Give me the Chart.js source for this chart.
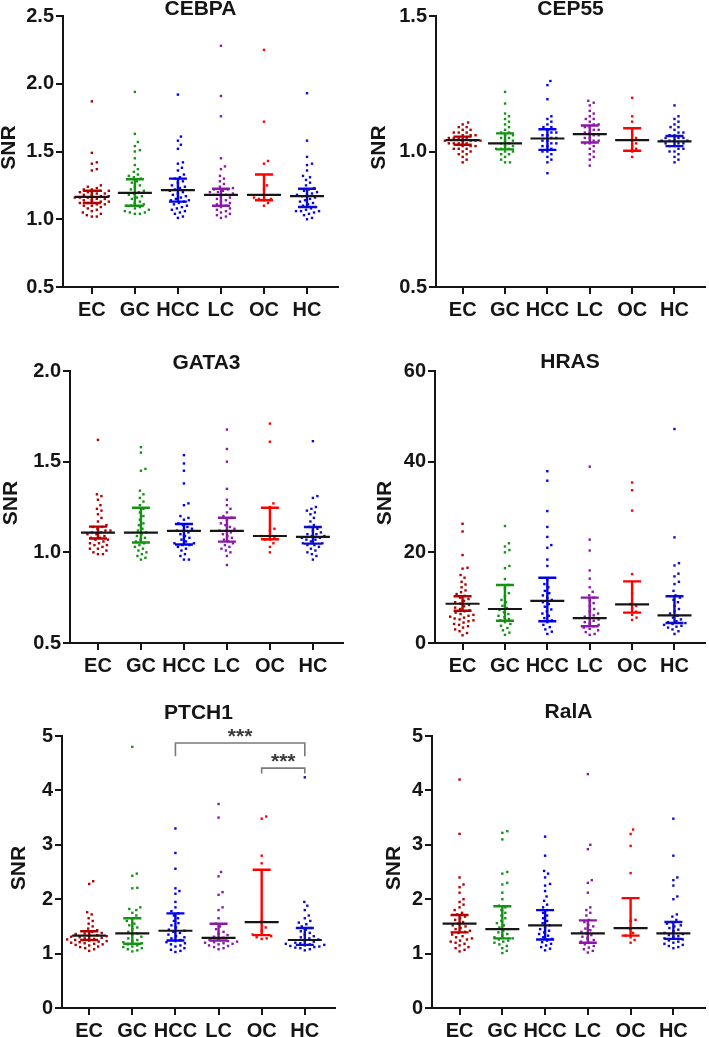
<!DOCTYPE html>
<html>
<head>
<meta charset="utf-8">
<script src="https://cdn.jsdelivr.net/npm/chart.js@4.4.0/dist/chart.umd.min.js"></script>
<style>
  body { margin: 0; background: #fff; }
  #wrap { position: relative; width: 709px; height: 1037px; overflow: hidden; background: #fff; }
  #wrap canvas { position: absolute; }
</style>
</head>
<body>
<div id="wrap"></div>
<script>
// group names and colours
var groups = ["EC", "GC", "HCC", "LC", "OC", "HC"];
var groupColors = ["#b00000", "#139313", "#0000ee", "#8a18a8", "#ff0000", "#0c0ccc"];

// ---- CEBPA ----
var cebpaTicks = [0.5, 1.0, 1.5, 2.0, 2.5];
var cebpaPoints = [
  [1.87,1.49,1.42,1.41,1.37,1.36,1.25,1.24,1.23,1.22,1.22,1.21,1.21,1.20,1.20,1.19,1.19,1.18,1.18,1.17,1.17,1.16,1.16,1.16,1.15,1.15,1.14,1.14,1.13,1.13,1.12,1.12,1.11,1.11,1.10,1.10,1.09,1.08,1.07,1.06,1.05,1.04,1.03,1.02,1.02],
  [1.94,1.63,1.57,1.54,1.51,1.50,1.45,1.40,1.37,1.35,1.33,1.32,1.31,1.30,1.28,1.27,1.25,1.24,1.22,1.21,1.20,1.19,1.18,1.17,1.16,1.15,1.13,1.12,1.11,1.10,1.10,1.09,1.08,1.07,1.06,1.05,1.05,1.04,1.04],
  [1.92,1.61,1.58,1.55,1.52,1.42,1.41,1.38,1.36,1.33,1.31,1.30,1.28,1.27,1.25,1.24,1.23,1.22,1.21,1.20,1.19,1.18,1.17,1.16,1.15,1.14,1.14,1.13,1.12,1.11,1.10,1.09,1.08,1.07,1.06,1.05,1.04,1.02,1.01],
  [2.28,1.91,1.76,1.45,1.39,1.37,1.32,1.30,1.28,1.26,1.24,1.23,1.22,1.22,1.21,1.20,1.20,1.19,1.18,1.18,1.17,1.16,1.15,1.14,1.13,1.12,1.11,1.10,1.09,1.08,1.07,1.06,1.05,1.04,1.03,1.02,1.01],
  [2.25,1.72,1.43,1.41,1.25,1.22,1.18,1.16,1.15,1.15,1.14,1.12,1.10],
  [1.93,1.58,1.46,1.41,1.40,1.36,1.32,1.31,1.29,1.27,1.25,1.23,1.22,1.21,1.20,1.19,1.18,1.18,1.17,1.16,1.15,1.14,1.13,1.12,1.11,1.10,1.09,1.08,1.07,1.06,1.06,1.06,1.05,1.04,1.03,1.01,1.00]
];
var cebpaMedian = [1.165, 1.195, 1.215, 1.18, 1.18, 1.17];
var cebpaQ1 = [1.12, 1.10, 1.13, 1.10, 1.14, 1.09];
var cebpaQ3 = [1.21, 1.295, 1.30, 1.225, 1.33, 1.225];

// ---- CEP55 ----
var cep55Ticks = [0.5, 1.0, 1.5];
var cep55Points = [
  [1.107,1.10,1.09,1.09,1.08,1.08,1.07,1.07,1.07,1.06,1.06,1.06,1.05,1.05,1.05,1.05,1.04,1.04,1.04,1.04,1.04,1.03,1.03,1.03,1.03,1.02,1.02,1.02,1.01,1.01,1.01,1.00,1.00,0.99,0.99,0.98,0.97,0.96],
  [1.22,1.177,1.14,1.13,1.12,1.11,1.10,1.09,1.08,1.07,1.07,1.06,1.06,1.05,1.05,1.04,1.04,1.03,1.03,1.02,1.02,1.01,1.01,1.01,1.00,1.00,0.99,0.99,0.98,0.97,0.96,0.96],
  [1.26,1.245,1.193,1.13,1.12,1.11,1.10,1.09,1.09,1.08,1.07,1.07,1.06,1.06,1.05,1.05,1.04,1.04,1.03,1.03,1.02,1.02,1.01,1.00,1.00,0.99,0.98,0.97,0.96,0.92],
  [1.187,1.18,1.17,1.15,1.14,1.13,1.12,1.12,1.11,1.10,1.10,1.09,1.09,1.08,1.08,1.07,1.07,1.06,1.06,1.05,1.05,1.04,1.04,1.03,1.03,1.02,1.01,1.00,0.99,0.98,0.97,0.948],
  [1.198,1.13,1.11,1.08,1.06,1.05,1.04,1.03,1.02,1.01,1.00,0.98],
  [1.17,1.13,1.12,1.11,1.10,1.09,1.09,1.08,1.07,1.07,1.06,1.06,1.05,1.05,1.05,1.04,1.04,1.04,1.04,1.03,1.03,1.03,1.02,1.02,1.01,1.01,1.00,1.00,0.99,0.98,0.97,0.96]
];
var cep55Median = [1.042, 1.030, 1.048, 1.064, 1.042, 1.037];
var cep55Q1 = [1.025, 1.008, 1.006, 1.033, 1.003, 1.02];
var cep55Q3 = [1.055, 1.067, 1.082, 1.096, 1.086, 1.057];

// ---- GATA3 ----
var gata3Ticks = [0.5, 1.0, 1.5, 2.0];
var gata3Points = [
  [1.62,1.32,1.31,1.29,1.26,1.24,1.23,1.21,1.19,1.17,1.15,1.14,1.14,1.13,1.12,1.12,1.11,1.11,1.10,1.10,1.09,1.08,1.08,1.07,1.07,1.06,1.05,1.05,1.04,1.04,1.03,1.02,1.02,1.01,1.00,0.99,0.99],
  [1.58,1.55,1.46,1.45,1.34,1.32,1.30,1.28,1.26,1.24,1.22,1.20,1.18,1.16,1.15,1.13,1.12,1.11,1.10,1.09,1.08,1.07,1.06,1.05,1.04,1.03,1.02,1.01,1.00,0.99,0.98,0.97,0.96],
  [1.536,1.49,1.45,1.38,1.27,1.26,1.20,1.19,1.18,1.16,1.15,1.14,1.13,1.12,1.12,1.11,1.10,1.09,1.08,1.07,1.06,1.05,1.05,1.04,1.04,1.03,1.02,1.01,0.99,0.98,0.96,0.96],
  [1.677,1.57,1.50,1.35,1.29,1.26,1.24,1.22,1.20,1.19,1.18,1.16,1.15,1.14,1.13,1.12,1.12,1.11,1.10,1.09,1.08,1.07,1.06,1.05,1.04,1.03,1.02,1.01,1.00,0.98,0.93],
  [1.71,1.61,1.27,1.25,1.13,1.12,1.09,1.08,1.07,1.07,1.05,1.03,1.00],
  [1.613,1.31,1.30,1.25,1.24,1.23,1.22,1.21,1.19,1.17,1.15,1.14,1.13,1.12,1.11,1.10,1.10,1.09,1.09,1.08,1.08,1.07,1.07,1.06,1.05,1.05,1.04,1.04,1.03,1.02,1.01,1.00,0.99,0.98,0.96]
];
var gata3Median = [1.109, 1.109, 1.118, 1.118, 1.09, 1.085];
var gata3Q1 = [1.076, 1.054, 1.043, 1.059, 1.072, 1.048];
var gata3Q3 = [1.142, 1.246, 1.156, 1.191, 1.246, 1.14];

// ---- HRAS ----
var hrasTicks = [0, 20, 40, 60];
var hrasPoints = [
  [26.3,24.6,19.4,16.6,16.4,15.0,14.4,13.5,12.9,12.3,11.6,11.2,10.8,10.4,10.0,9.7,9.3,9.0,8.7,8.4,8.1,7.8,7.5,7.2,7.0,6.7,6.4,6.2,6.0,5.8,5.6,5.4,5.2,5.0,4.8,4.5,4.2,4.0,3.7,3.4,3.0,2.6,2.2,1.7],
  [25.8,22.0,21.3,20.5,20.0,17.0,16.5,14.1,12.8,12.0,11.0,10.3,9.5,9.0,8.2,7.7,7.3,6.8,6.4,6.0,5.7,5.3,5.0,4.6,4.2,3.8,3.3,2.8,2.3,1.8],
  [37.9,35.8,29.1,25.6,23.4,21.6,21.0,18.4,17.0,14.0,13.0,12.3,11.5,11.0,10.5,10.0,9.5,9.0,8.6,8.0,7.4,7.0,6.5,6.0,5.5,5.0,4.6,4.0,3.5,3.0,2.5,2.0],
  [38.9,22.8,20.4,16.0,14.2,12.3,11.3,10.5,10.0,9.4,8.8,8.2,7.5,7.0,6.5,6.1,5.8,5.5,5.2,4.9,4.6,4.3,4.0,3.7,3.4,3.1,2.8,2.4,2.0,1.8],
  [35.4,33.7,29.2,15.2,11.0,8.6,8.2,7.6,6.9,6.2,5.6,5.1],
  [47.2,23.3,17.6,17.1,15.3,14.7,13.5,13.0,11.5,10.5,10.0,9.5,9.0,8.2,7.5,7.0,6.5,6.0,5.6,5.2,4.8,4.6,4.4,4.2,4.0,3.8,3.6,3.4,3.0,2.6,2.0]
];
var hrasMedian = [8.66, 7.5, 9.3, 5.5, 8.5, 6.1];
var hrasQ1 = [7.1, 4.9, 4.8, 3.7, 6.7, 4.4];
var hrasQ3 = [10.3, 12.8, 14.4, 10.0, 13.6, 10.3];

// ---- PTCH1 ----
var ptch1Ticks = [0, 1, 2, 3, 4, 5];
var ptch1Points = [
  [2.33,2.28,1.76,1.72,1.65,1.60,1.55,1.50,1.46,1.43,1.40,1.38,1.37,1.36,1.34,1.33,1.32,1.31,1.30,1.29,1.28,1.27,1.26,1.25,1.24,1.23,1.22,1.21,1.20,1.19,1.18,1.17,1.16,1.15,1.13,1.12,1.10,1.08,1.05],
  [4.80,2.47,2.43,2.21,2.20,1.85,1.82,1.80,1.75,1.70,1.65,1.60,1.55,1.52,1.48,1.45,1.40,1.37,1.34,1.31,1.28,1.25,1.23,1.21,1.19,1.17,1.15,1.13,1.12,1.10,1.08,1.06,1.04],
  [3.30,2.85,2.56,2.20,2.15,2.10,1.95,1.85,1.78,1.74,1.70,1.65,1.60,1.56,1.52,1.48,1.44,1.42,1.40,1.38,1.35,1.32,1.30,1.28,1.25,1.23,1.21,1.19,1.17,1.15,1.13,1.10,1.07,1.05,1.03],
  [3.75,3.50,2.50,2.42,2.13,2.08,1.85,1.80,1.65,1.55,1.50,1.45,1.40,1.37,1.34,1.31,1.29,1.27,1.25,1.23,1.22,1.21,1.20,1.19,1.18,1.17,1.15,1.14,1.12,1.10,1.08],
  [3.52,3.48,2.80,2.66,1.60,1.48,1.42,1.35,1.32,1.30,1.28,1.27],
  [4.24,1.95,1.88,1.80,1.70,1.65,1.60,1.57,1.54,1.50,1.47,1.44,1.41,1.38,1.35,1.32,1.30,1.28,1.26,1.24,1.22,1.20,1.19,1.18,1.17,1.16,1.15,1.14,1.13,1.12,1.11,1.10,1.08,1.06]
];
var ptch1Median = [1.33, 1.37, 1.42, 1.29, 1.58, 1.25];
var ptch1Q1 = [1.25, 1.18, 1.24, 1.24, 1.34, 1.16];
var ptch1Q3 = [1.41, 1.65, 1.74, 1.55, 2.54, 1.47];
// significance brackets: from group, to group, bar value, end value, label
var ptch1Brackets = [[3, 6, 4.87, 4.63, "***"], [5, 6, 4.41, 4.31, "***"]];

// ---- RalA ----
var ralaTicks = [0, 1, 2, 3, 4, 5];
var ralaPoints = [
  [4.20,3.20,2.40,2.27,2.22,2.12,2.00,1.95,1.90,1.85,1.80,1.75,1.72,1.68,1.65,1.62,1.58,1.55,1.52,1.50,1.47,1.45,1.42,1.40,1.38,1.35,1.32,1.30,1.28,1.26,1.24,1.22,1.20,1.18,1.15,1.12,1.10,1.07,1.04],
  [3.25,3.22,3.10,2.50,2.47,2.30,2.27,2.12,2.00,1.88,1.85,1.80,1.75,1.70,1.65,1.60,1.56,1.52,1.48,1.45,1.42,1.39,1.36,1.33,1.30,1.28,1.26,1.24,1.22,1.20,1.17,1.14,1.10,1.05,1.01],
  [3.15,2.80,2.52,2.47,2.40,2.28,2.25,2.15,2.05,1.97,1.90,1.85,1.80,1.75,1.70,1.65,1.60,1.56,1.52,1.48,1.45,1.42,1.39,1.36,1.33,1.30,1.27,1.24,1.21,1.18,1.15,1.12,1.09,1.06],
  [4.30,3.00,2.92,2.35,2.30,2.12,1.85,1.80,1.75,1.70,1.62,1.58,1.53,1.50,1.46,1.43,1.40,1.37,1.34,1.31,1.28,1.25,1.22,1.20,1.17,1.14,1.11,1.08,1.05,1.02],
  [3.28,3.20,2.98,2.48,1.62,1.60,1.45,1.38,1.33,1.30,1.25,1.20],
  [3.48,2.80,2.40,2.35,2.25,2.05,2.00,1.72,1.68,1.62,1.58,1.55,1.52,1.50,1.47,1.44,1.41,1.38,1.36,1.34,1.32,1.30,1.28,1.26,1.24,1.22,1.20,1.18,1.16,1.14,1.12,1.10]
];
var ralaMedian = [1.55, 1.45, 1.52, 1.37, 1.47, 1.37];
var ralaQ1 = [1.39, 1.28, 1.26, 1.20, 1.33, 1.27];
var ralaQ3 = [1.71, 1.87, 1.80, 1.61, 2.02, 1.58];

// panel layout: box = canvas [left, top, w, h], area = plot [left, top, right, bottom] inside the canvas
var panels = [
  { name: "CEBPA", pts: cebpaPoints, med: cebpaMedian, q1: cebpaQ1, q3: cebpaQ3, ticks: cebpaTicks, dec: 1,
    box: [0, 0, 355, 332], area: [63, 16, 338, 287], xr: [0.33, 6.72], titleDy: 7, snrDx: 54 },
  { name: "CEP55", pts: cep55Points, med: cep55Median, q1: cep55Q1, q3: cep55Q3, ticks: cep55Ticks, dec: 1,
    box: [355, 0, 354, 332], area: [81, 16, 353, 287], xr: [0.37, 6.72], titleDy: 7, snrDx: 56.5 },
  { name: "GATA3", pts: gata3Points, med: gata3Median, q1: gata3Q1, q3: gata3Q3, ticks: gata3Ticks, dec: 1,
    box: [0, 330, 355, 358], area: [70, 41, 343, 313], xr: [0.35, 6.70], titleDy: 8, snrDx: 59 },
  { name: "HRAS", pts: hrasPoints, med: hrasMedian, q1: hrasQ1, q3: hrasQ3, ticks: hrasTicks, dec: 0,
    box: [355, 330, 354, 358], area: [80, 41, 353, 313], xr: [0.35, 6.72], titleDy: 9, snrDx: 50 },
  { name: "PTCH1", pts: ptch1Points, med: ptch1Median, q1: ptch1Q1, q3: ptch1Q3, ticks: ptch1Ticks, dec: 0,
    box: [0, 670, 355, 367], area: [62, 66, 335, 338], xr: [0.37, 6.70], titleDy: 23, snrDx: 42.5, brackets: ptch1Brackets },
  { name: "RalA", pts: ralaPoints, med: ralaMedian, q1: ralaQ1, q3: ralaQ3, ticks: ralaTicks, dec: 0,
    box: [355, 670, 354, 367], area: [77, 66, 353, 338], xr: [0.355, 6.74], titleDy: 24, snrDx: 37.5 }
];

var FONT = '"Liberation Sans", Arial, Helvetica, sans-serif';
var INK = "#151515";

// simple beeswarm: returns horizontal offsets (px) for values, given px per y unit
function swarm(vals, pxPerY, dist) {
  var order = vals.map(function (v, i) { return i; });
  order.sort(function (a, b) { return vals[a] - vals[b]; });
  var placed = [];
  var off = new Array(vals.length);
  order.forEach(function (i) {
    var y = vals[i] * pxPerY;
    for (var k = 0; k < 400; k++) {
      var cand = (k % 2 ? 1 : -1) * Math.ceil(k / 2) * 0.5;
      var ok = true;
      for (var p = 0; p < placed.length; p++) {
        var dx = placed[p][0] - cand, dy = placed[p][1] - y;
        if (dx * dx + dy * dy < dist * dist) { ok = false; break; }
      }
      if (ok) { off[i] = cand; placed.push([cand, y]); break; }
    }
  });
  return off;
}

// medians, IQR bars, titles, axis title and brackets
var plotPlugin = {
  id: "plotExtras",
  afterDatasetsDraw: function (chart) {
    var cfg = chart.options.plugins.plotExtras;
    var ctx = chart.ctx, xs = chart.scales.x, ys = chart.scales.y;
    ctx.save();
    ctx.lineCap = "butt";
    groups.forEach(function (g, i) {
      var x = xs.getPixelForValue(i + 1);
      var yMed = ys.getPixelForValue(cfg.med[i]);
      var yLo = ys.getPixelForValue(cfg.q1[i]);
      var yHi = ys.getPixelForValue(cfg.q3[i]);
      ctx.strokeStyle = groupColors[i];
      ctx.lineWidth = 2.4;
      ctx.beginPath();
      ctx.moveTo(x, yLo); ctx.lineTo(x, yHi);
      ctx.moveTo(x - 9, yLo); ctx.lineTo(x + 9, yLo);
      ctx.moveTo(x - 9, yHi); ctx.lineTo(x + 9, yHi);
      ctx.stroke();
      ctx.strokeStyle = INK;
      ctx.lineWidth = 2.2;
      ctx.beginPath();
      ctx.moveTo(x - 17, yMed); ctx.lineTo(x + 17, yMed);
      ctx.stroke();
    });
    ctx.restore();
  },
  afterDraw: function (chart) {
    var cfg = chart.options.plugins.plotExtras;
    var ctx = chart.ctx, a = chart.chartArea;
    var xs = chart.scales.x, ys = chart.scales.y;
    ctx.save();
    ctx.fillStyle = INK;
    ctx.textAlign = "center";
    ctx.textBaseline = "middle";
    ctx.font = "bold 21px " + FONT;
    ctx.fillText(cfg.name, (a.left + a.right) / 2, a.top - cfg.titleDy);
    ctx.save();
    ctx.translate(a.left - cfg.snrDx, (a.top + a.bottom) / 2 - 4);
    ctx.rotate(-Math.PI / 2);
    ctx.font = "bold 21px " + FONT;
    ctx.fillText("SNR", 0, 0);
    ctx.restore();
    if (cfg.brackets) {
      cfg.brackets.forEach(function (b) {
        var x1 = xs.getPixelForValue(b[0]), x2 = xs.getPixelForValue(b[1]);
        var yb = ys.getPixelForValue(b[2]), ye = ys.getPixelForValue(b[3]);
        ctx.strokeStyle = "#7a7a7a";
        ctx.lineWidth = 1.6;
        ctx.beginPath();
        ctx.moveTo(x1, ye); ctx.lineTo(x1, yb); ctx.lineTo(x2, yb); ctx.lineTo(x2, ye);
        ctx.stroke();
        ctx.fillStyle = "#3a3a3a";
        ctx.font = "bold 21px " + FONT;
        ctx.textBaseline = "alphabetic";
        ctx.fillText(b[4], (x1 + x2) / 2, yb);
      });
    }
    ctx.restore();
  }
};

function drawPanel(p) {
  var wrap = document.getElementById("wrap");
  var cv = document.createElement("canvas");
  cv.width = p.box[2]; cv.height = p.box[3];
  cv.style.left = p.box[0] + "px"; cv.style.top = p.box[1] + "px";
  cv.style.width = p.box[2] + "px"; cv.style.height = p.box[3] + "px";
  wrap.appendChild(cv);

  var plotW = p.area[2] - p.area[0], plotH = p.area[3] - p.area[1];
  var yMin = p.ticks[0], yMax = p.ticks[p.ticks.length - 1];
  var pxPerY = plotH / (yMax - yMin);
  var pxPerX = plotW / (p.xr[1] - p.xr[0]);

  var datasets = p.pts.map(function (vals, i) {
    var off = swarm(vals, pxPerY, 4.8);
    return {
      data: vals.map(function (v, j) { return { x: i + 1 + off[j] / pxPerX, y: v }; }),
      backgroundColor: groupColors[i],
      borderWidth: 0,
      pointStyle: "rect",
      pointRadius: 1.7,
      showLine: false
    };
  });

  var tickFont = { family: FONT, size: 20, weight: "bold" };
  new Chart(cv, {
    type: "scatter",
    data: { datasets: datasets },
    options: {
      responsive: false,
      animation: false,
      events: [],
      layout: { padding: { left: 0, top: p.area[1], right: p.box[2] - p.area[2], bottom: 0 } },
      plugins: {
        legend: { display: false },
        tooltip: { enabled: false },
        plotExtras: p
      },
      scales: {
        x: {
          type: "linear",
          min: p.xr[0], max: p.xr[1],
          afterFit: function (s) { s.height = p.box[3] - p.area[3]; },
          afterBuildTicks: function (s) { s.ticks = groups.map(function (g, i) { return { value: i + 1 }; }); },
          ticks: {
            autoSkip: false, maxRotation: 0, minRotation: 0, padding: 4,
            color: INK, font: tickFont,
            callback: function (v) { return groups[Math.round(v) - 1]; }
          },
          grid: { display: true, drawOnChartArea: false, drawTicks: true, tickLength: 7, color: INK, lineWidth: 2 },
          border: { display: true, color: INK, width: 2 }
        },
        y: {
          type: "linear",
          min: yMin, max: yMax,
          afterFit: function (s) { s.width = p.area[0]; },
          afterBuildTicks: function (s) { s.ticks = p.ticks.map(function (v) { return { value: v }; }); },
          ticks: {
            padding: 2, color: INK, font: tickFont,
            callback: function (v) { return Number(v).toFixed(p.dec); }
          },
          grid: { display: true, drawOnChartArea: false, drawTicks: true, tickLength: 7, color: INK, lineWidth: 2 },
          border: { display: true, color: INK, width: 2 }
        }
      }
    },
    plugins: [plotPlugin]
  });
}

panels.forEach(drawPanel);
</script>
</body>
</html>
